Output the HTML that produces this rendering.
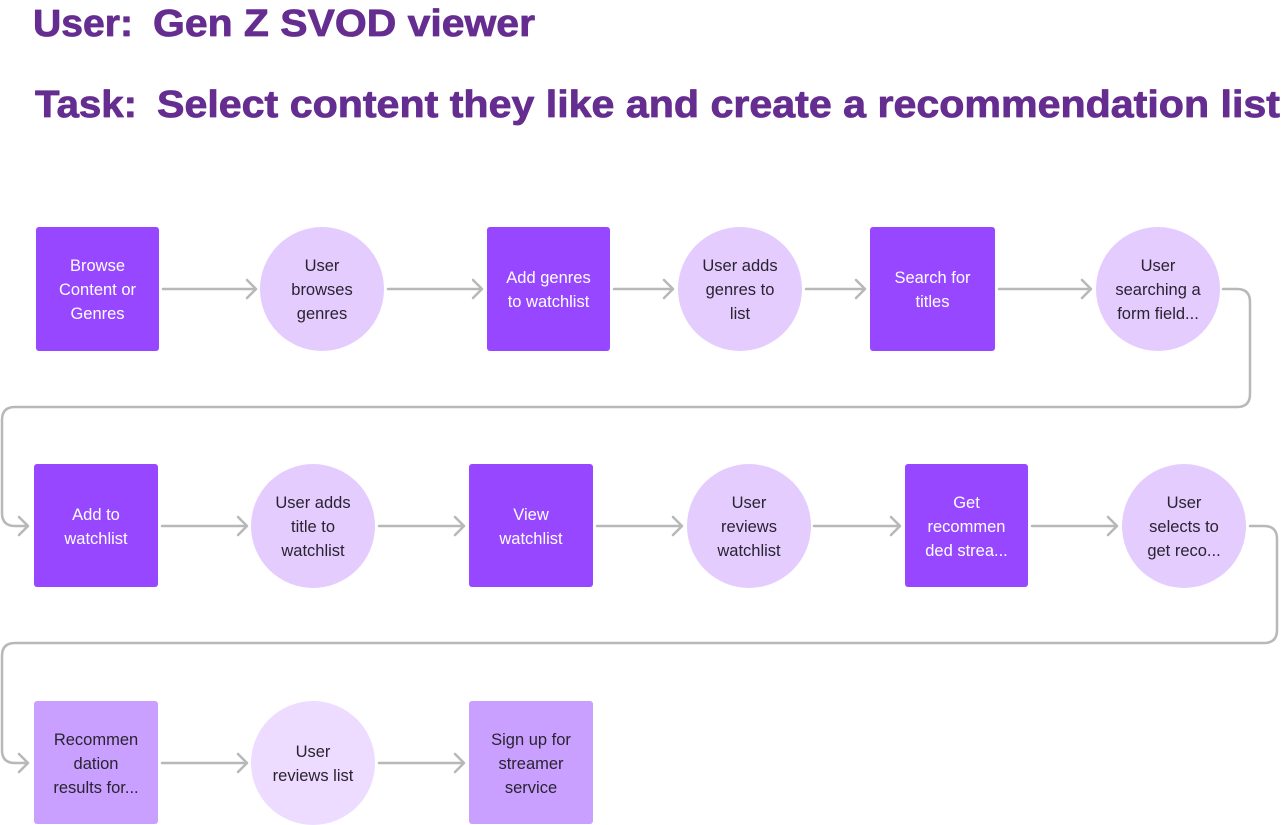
<!DOCTYPE html>
<html><head><meta charset="utf-8"><style>
html,body{margin:0;padding:0;background:#fff;}
svg{display:block;}
text{font-family:"Liberation Sans",sans-serif;}
.t{font-size:38px;font-weight:bold;fill:#662D91;stroke:#662D91;stroke-width:0.8;stroke-linejoin:round;}
.w{font-size:16.5px;fill:#fff;text-anchor:middle;}
.d{font-size:16.5px;fill:#2a2330;text-anchor:middle;}
.c{fill:none;stroke:#b8b8b8;stroke-width:2.5;stroke-linecap:round;stroke-linejoin:round;}
</style></head><body>
<svg width="1282" height="825" viewBox="0 0 1282 825">
<text class="t" x="33" y="36" textLength="100" lengthAdjust="spacingAndGlyphs">User:</text>
<text class="t" x="153" y="36" textLength="382" lengthAdjust="spacingAndGlyphs">Gen Z SVOD viewer</text>
<text class="t" x="35" y="117" textLength="102" lengthAdjust="spacingAndGlyphs">Task:</text>
<text class="t" x="157" y="117" textLength="1123" lengthAdjust="spacingAndGlyphs">Select content they like and create a recommendation list</text>

<g class="c">
<path d="M163 289H256M247 280l9 9-9 9"/>
<path d="M388 289H482M473 280l9 9-9 9"/>
<path d="M614 289H673M664 280l9 9-9 9"/>
<path d="M806 289H865M856 280l9 9-9 9"/>
<path d="M999 289H1091M1082 280l9 9-9 9"/>
<path d="M1223 289H1237Q1250 289 1250 302V394Q1250 407 1237 407H15Q2 407 2 420V513Q2 526 15 526H28M19 517l9 9-9 9"/>
<path d="M162 526H247M238 517l9 9-9 9"/>
<path d="M379 526H464M455 517l9 9-9 9"/>
<path d="M597 526H682M673 517l9 9-9 9"/>
<path d="M814 526H900M891 517l9 9-9 9"/>
<path d="M1032 526H1117M1108 517l9 9-9 9"/>
<path d="M1250 526H1264Q1277 526 1277 539V630Q1277 643 1264 643H15Q2 643 2 656V750Q2 763 15 763H28M19 754l9 9-9 9"/>
<path d="M162 763H247M238 754l9 9-9 9"/>
<path d="M379 763H464M455 754l9 9-9 9"/>
</g>

<rect x="36" y="227" width="123" height="124" rx="3" fill="#9747FF"/>
<text class="w" x="97.5" y="271">Browse</text><text class="w" x="97.5" y="295">Content or</text><text class="w" x="97.5" y="319">Genres</text>
<circle cx="322" cy="289" r="62" fill="#E4CCFF"/>
<text class="d" x="322" y="271">User</text><text class="d" x="322" y="295">browses</text><text class="d" x="322" y="319">genres</text>
<rect x="487" y="227" width="123" height="124" rx="3" fill="#9747FF"/>
<text class="w" x="548.5" y="283">Add genres</text><text class="w" x="548.5" y="307">to watchlist</text>
<circle cx="740" cy="289" r="62" fill="#E4CCFF"/>
<text class="d" x="740" y="271">User adds</text><text class="d" x="740" y="295">genres to</text><text class="d" x="740" y="319">list</text>
<rect x="870" y="227" width="125" height="124" rx="3" fill="#9747FF"/>
<text class="w" x="932.5" y="283">Search for</text><text class="w" x="932.5" y="307">titles</text>
<circle cx="1158" cy="289" r="62" fill="#E4CCFF"/>
<text class="d" x="1158" y="271">User</text><text class="d" x="1158" y="295">searching a</text><text class="d" x="1158" y="319">form field...</text>

<rect x="34" y="464" width="124" height="123" rx="3" fill="#9747FF"/>
<text class="w" x="96" y="520">Add to</text><text class="w" x="96" y="544">watchlist</text>
<circle cx="313" cy="526" r="62" fill="#E4CCFF"/>
<text class="d" x="313" y="508">User adds</text><text class="d" x="313" y="532">title to</text><text class="d" x="313" y="556">watchlist</text>
<rect x="469" y="464" width="124" height="123" rx="3" fill="#9747FF"/>
<text class="w" x="531" y="520">View</text><text class="w" x="531" y="544">watchlist</text>
<circle cx="749" cy="526" r="62" fill="#E4CCFF"/>
<text class="d" x="749" y="508">User</text><text class="d" x="749" y="532">reviews</text><text class="d" x="749" y="556">watchlist</text>
<rect x="905" y="464" width="123" height="123" rx="3" fill="#9747FF"/>
<text class="w" x="966.5" y="508">Get</text><text class="w" x="966.5" y="532">recommen</text><text class="w" x="966.5" y="556">ded strea...</text>
<circle cx="1184" cy="526" r="62" fill="#E4CCFF"/>
<text class="d" x="1184" y="508">User</text><text class="d" x="1184" y="532">selects to</text><text class="d" x="1184" y="556">get reco...</text>

<rect x="34" y="701" width="124" height="123" rx="3" fill="#C9A0FF"/>
<text class="d" x="96" y="745">Recommen</text><text class="d" x="96" y="769">dation</text><text class="d" x="96" y="793">results for...</text>
<circle cx="313" cy="763" r="62" fill="#EDDCFF"/>
<text class="d" x="313" y="757">User</text><text class="d" x="313" y="781">reviews list</text>
<rect x="469" y="701" width="124" height="123" rx="3" fill="#C9A0FF"/>
<text class="d" x="531" y="745">Sign up for</text><text class="d" x="531" y="769">streamer</text><text class="d" x="531" y="793">service</text>
</svg>
</body></html>
